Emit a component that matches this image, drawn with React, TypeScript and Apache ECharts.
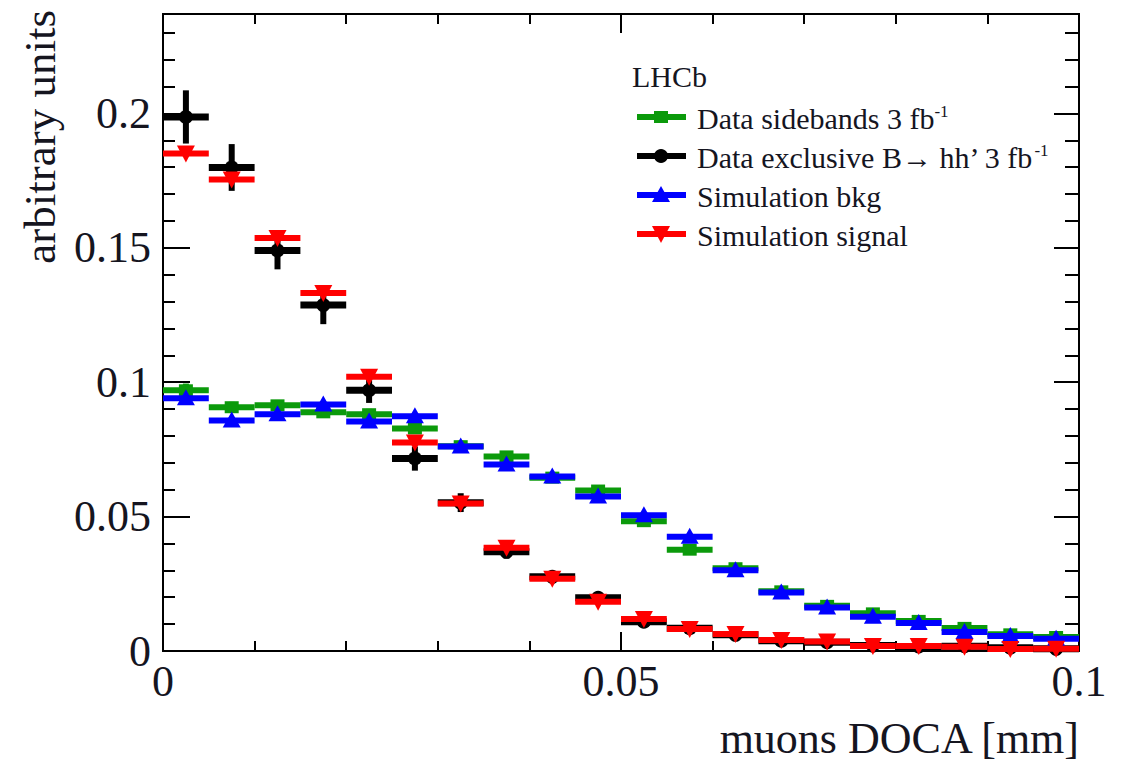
import React, { useEffect, useRef } from "react";
import * as echarts from "echarts";

// Bin centers of the muons DOCA histogram [mm], bin width 0.005
const binCenters = [
  0.0025, 0.0075, 0.0125, 0.0175, 0.0225, 0.0275, 0.0325, 0.0375, 0.0425, 0.0475,
  0.0525, 0.0575, 0.0625, 0.0675, 0.0725, 0.0775, 0.0825, 0.0875, 0.0925, 0.0975,
];
const binHalfWidth = 0.0025;

const sidebandsY = [
  0.097, 0.0907, 0.0914, 0.0888, 0.0881, 0.0828, 0.0762, 0.0724, 0.0645, 0.0597,
  0.0483, 0.0377, 0.0308, 0.0222, 0.0168, 0.014, 0.0112, 0.0086, 0.0062, 0.0052,
];
const sidebandsErr = [
  0.0025, 0.002, 0.002, 0.002, 0.002, 0.002, 0.002, 0.002, 0.0018, 0.0018,
  0.0017, 0.0016, 0.0015, 0.0013, 0.0012, 0.0011, 0.001, 0.0009, 0.0008, 0.0008,
];

const exclusiveY = [
  0.1987, 0.1799, 0.149, 0.1287, 0.097, 0.0716, 0.0552, 0.0369, 0.0276, 0.0198,
  0.0109, 0.0085, 0.006, 0.0038, 0.0033, 0.002, 0.0017, 0.0018, 0.0012, 0.0008,
];
const exclusiveErr = [
  0.0099, 0.0087, 0.007, 0.0071, 0.0047, 0.0045, 0.0035, 0.0025, 0.002, 0.0018,
  0.0015, 0.0013, 0.0011, 0.001, 0.0009, 0.0007, 0.0006, 0.0006, 0.0005, 0.0004,
];

const simBkgY = [
  0.094, 0.0858, 0.0881, 0.0917, 0.0854, 0.0873, 0.0761, 0.0694, 0.0649, 0.0575,
  0.0505, 0.0425, 0.03, 0.0218, 0.0162, 0.0127, 0.0104, 0.0071, 0.0056, 0.0046,
];
const simBkgErr = [
  0.0008, 0.0008, 0.0008, 0.0008, 0.0008, 0.0008, 0.0007, 0.0007, 0.0007, 0.0006,
  0.0006, 0.0006, 0.0005, 0.0005, 0.0004, 0.0004, 0.0004, 0.0003, 0.0003, 0.0003,
];

const simSignalY = [
  0.1851, 0.1754, 0.1537, 0.1332, 0.102, 0.0776, 0.0549, 0.0384, 0.0269, 0.0183,
  0.0119, 0.0082, 0.0063, 0.0041, 0.0035, 0.0019, 0.0019, 0.0016, 0.0007, 0.0008,
];
const simSignalErr = [
  0.0006, 0.0006, 0.0006, 0.0005, 0.0005, 0.0005, 0.0004, 0.0004, 0.0003, 0.0003,
  0.0003, 0.0002, 0.0002, 0.0002, 0.0002, 0.0001, 0.0001, 0.0001, 0.0001, 0.0001,
];

const xTickLabels = ["0", "0.05", "0.1"];
const legendNames = [
  "Data sidebands 3 fb",
  "Data exclusive B\u2192 hh\u2019 3 fb",
  "Simulation bkg",
  "Simulation signal",
];

const GREEN = "#0b9a0b";
const BLACK = "#000000";
const BLUE = "#0000ff";
const RED = "#ff0000";
const TEXT = "#15151f";
const FONT = "'Liberation Serif', 'DejaVu Serif', serif";

type Kind = "square" | "circle" | "up" | "down";

function markerEl(kind: Kind, cx: number, cy: number, color: string): any {
  if (kind === "square") {
    return { type: "rect", shape: { x: cx - 7, y: cy - 6, width: 14, height: 12 }, style: { fill: color } };
  }
  if (kind === "circle") {
    return { type: "circle", shape: { cx, cy, r: 7 }, style: { fill: color } };
  }
  if (kind === "up") {
    return {
      type: "polygon",
      shape: { points: [[cx, cy - 9], [cx + 9, cy + 7], [cx - 9, cy + 7]] },
      style: { fill: color },
    };
  }
  return {
    type: "polygon",
    shape: { points: [[cx - 9, cy - 8], [cx + 9, cy - 8], [cx, cy + 9]] },
    style: { fill: color },
  };
}

function makeRender(kind: Kind, color: string, barWidth: number) {
  return (params: any, api: any) => {
    const x = api.value(0);
    const y = api.value(1);
    const e = api.value(2);
    const l = api.coord([x - binHalfWidth, y]);
    const r = api.coord([x + binHalfWidth, y]);
    const t = api.coord([x, y + e]);
    const b = api.coord([x, y - e]);
    const c = api.coord([x, y]);
    return {
      type: "group",
      children: [
        {
          type: "line",
          shape: { x1: l[0], y1: l[1], x2: r[0], y2: r[1] },
          style: { stroke: color, lineWidth: barWidth, lineCap: "butt" },
        },
        {
          type: "line",
          shape: { x1: c[0], y1: t[1], x2: c[0], y2: b[1] },
          style: { stroke: color, lineWidth: 6, lineCap: "butt" },
        },
        markerEl(kind, c[0], c[1], color),
      ],
    };
  };
}

function toData(ys: number[], errs: number[]) {
  return binCenters.map((x, i) => [x, ys[i], errs[i]]);
}

const Y_MAX = 0.237;

function yAxisDef(position: "left" | "right", interval: number, tickLen: number, labels: boolean): any {
  return {
    type: "value",
    position,
    min: 0,
    max: Y_MAX,
    interval,
    axisLine: { show: true, onZero: false, lineStyle: { color: "#000", width: 2 } },
    axisTick: { show: true, inside: true, length: tickLen, lineStyle: { color: "#000", width: 2 } },
    splitLine: { show: false },
    axisLabel: labels
      ? { show: true, showMaxLabel: false, fontFamily: FONT, fontSize: 44, color: TEXT, margin: 12 }
      : { show: false },
  };
}

function xAxisDef(position: "bottom" | "top", labels: boolean): any {
  return {
    type: "value",
    position,
    min: 0,
    max: 0.1,
    interval: 0.05,
    axisLine: { show: true, onZero: false, lineStyle: { color: "#000", width: 2 } },
    axisTick: { show: true, inside: true, length: 19, lineStyle: { color: "#000", width: 2 } },
    minorTick: { show: true, splitNumber: 5, length: 10, lineStyle: { color: "#000", width: 2 } },
    splitLine: { show: false },
    minorSplitLine: { show: false },
    axisLabel: labels
      ? {
          show: true,
          fontFamily: FONT,
          fontSize: 44,
          color: TEXT,
          margin: 8,
          formatter: (v: number) => {
            const idx = [0, 0.05, 0.1].findIndex((t) => Math.abs(t - v) < 1e-9);
            return idx >= 0 ? xTickLabels[idx] : "";
          },
        }
      : { show: false },
  };
}

const legendKinds: Kind[] = ["square", "circle", "up", "down"];
const legendColors = [GREEN, BLACK, BLUE, RED];
const legendRowsY = [117, 156, 195, 234];

function buildLegend(): any[] {
  const els: any[] = [
    {
      type: "text",
      x: 632,
      y: 76,
      style: { text: "LHCb", font: `30px ${FONT}`, fill: TEXT, align: "left", verticalAlign: "middle" },
    },
  ];
  legendNames.forEach((name, i) => {
    const y = legendRowsY[i];
    els.push({
      type: "line",
      shape: { x1: 637, y1: y, x2: 686, y2: y },
      style: { stroke: legendColors[i], lineWidth: 6 },
    });
    els.push(markerEl(legendKinds[i], 661, y, legendColors[i]));
    const hasSup = i < 2;
    els.push({
      type: "text",
      x: 697,
      y: y + 1,
      style: {
        text: hasSup ? `${name}{sup|-1}` : name,
        fontFamily: FONT,
        fontSize: 30,
        fill: TEXT,
        align: "left",
        verticalAlign: "middle",
        lineHeight: 30,
        rich: hasSup
          ? { sup: { fontFamily: FONT, fontSize: 17, verticalAlign: "top", lineHeight: 30, fill: TEXT } }
          : undefined,
      },
    });
  });
  return els;
}

export default function App() {
  const ref = useRef<HTMLDivElement>(null);

  useEffect(() => {
    if (!ref.current) return;
    const chart = echarts.init(ref.current, null, { renderer: "svg" });
    const option: any = {
      animation: false,
      backgroundColor: "#ffffff",
      grid: { left: 163, right: 50, top: 14, bottom: 111, containLabel: false },
      xAxis: [xAxisDef("bottom", true), xAxisDef("top", false)],
      yAxis: [
        yAxisDef("left", 0.05, 27, true),
        yAxisDef("left", 0.01, 12, false),
        yAxisDef("right", 0.05, 25, false),
        yAxisDef("right", 0.01, 14, false),
      ],
      series: [
        {
          name: legendNames[0],
          type: "custom",
          renderItem: makeRender("square", GREEN, 6),
          data: toData(sidebandsY, sidebandsErr),
          encode: { x: 0, y: 1 },
          xAxisIndex: 0,
          yAxisIndex: 0,
          z: 2,
          clip: false,
        },
        {
          name: legendNames[1],
          type: "custom",
          renderItem: makeRender("circle", BLACK, 7),
          data: toData(exclusiveY, exclusiveErr),
          encode: { x: 0, y: 1 },
          xAxisIndex: 0,
          yAxisIndex: 0,
          z: 3,
          clip: false,
        },
        {
          name: legendNames[2],
          type: "custom",
          renderItem: makeRender("up", BLUE, 6),
          data: toData(simBkgY, simBkgErr),
          encode: { x: 0, y: 1 },
          xAxisIndex: 0,
          yAxisIndex: 0,
          z: 4,
          clip: false,
        },
        {
          name: legendNames[3],
          type: "custom",
          renderItem: makeRender("down", RED, 6),
          data: toData(simSignalY, simSignalErr),
          encode: { x: 0, y: 1 },
          xAxisIndex: 0,
          yAxisIndex: 0,
          z: 5,
          clip: false,
        },
      ],
      graphic: [
        ...buildLegend(),
        {
          type: "text",
          x: 1079,
          y: 738,
          style: {
            text: "muons DOCA [mm]",
            font: `44px ${FONT}`,
            fill: TEXT,
            align: "right",
            verticalAlign: "middle",
          },
        },
        {
          type: "text",
          x: 40,
          y: 10,
          rotation: Math.PI / 2,
          style: {
            text: "arbitrary units",
            font: `45px ${FONT}`,
            fill: TEXT,
            align: "right",
            verticalAlign: "middle",
          },
        },
      ],
    };
    chart.setOption(option);
    return () => chart.dispose();
  }, []);

  return (
    <div
      ref={ref}
      style={{ position: "fixed", left: 0, top: 0, width: 1129, height: 762, background: "#fff" }}
    />
  );
}
